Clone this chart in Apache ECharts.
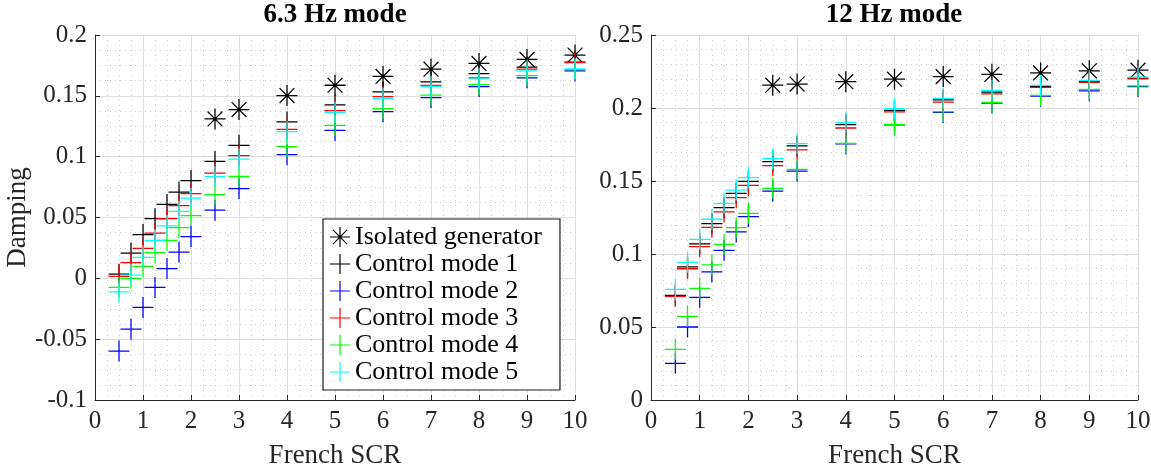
<!DOCTYPE html>
<html>
<head>
<meta charset="utf-8">
<script src="https://cdn.jsdelivr.net/npm/echarts@6/dist/echarts.min.js"></script>
<style>
html,body{margin:0;padding:0;background:#fff;}
#chart{width:1151px;height:467px;}
</style>
</head>
<body>
<div id="chart"></div>
<script>
// French SCR values
const scr = [0.5, 0.75, 1, 1.25, 1.5, 1.75, 2, 2.5, 3, 4, 5, 6, 7, 8, 9, 10];
const scrIso = [2.5, 3, 4, 5, 6, 7, 8, 9, 10];

// 6.3 Hz mode damping
const iso63 = [0.131, 0.1387, 0.1502, 0.1587, 0.1659, 0.1719, 0.1766, 0.1799, 0.1835];
const cm1_63 = [0.0034, 0.0208, 0.036, 0.049, 0.0607, 0.0709, 0.0804, 0.0961, 0.1093, 0.1285, 0.1425, 0.1532, 0.1615, 0.1683, 0.1735, 0.1778];
const cm2_63 = [-0.0598, -0.0418, -0.0239, -0.0075, 0.008, 0.0216, 0.0343, 0.056, 0.0738, 0.1016, 0.1216, 0.137, 0.1486, 0.1576, 0.1648, 0.1705];
const cm3_63 = [0.0016, 0.0129, 0.0247, 0.0371, 0.049, 0.0598, 0.0697, 0.0865, 0.1008, 0.1225, 0.1379, 0.1494, 0.1585, 0.1648, 0.1719, 0.1772];
const cm4_63 = [-0.0074, 0.0, 0.0098, 0.0211, 0.0312, 0.0416, 0.0516, 0.0689, 0.0837, 0.1082, 0.1257, 0.1395, 0.1505, 0.1593, 0.1667, 0.1715];
const cm5_63 = [-0.0112, 0.0027, 0.0172, 0.0311, 0.0432, 0.0551, 0.0659, 0.0835, 0.098, 0.1205, 0.1365, 0.148, 0.1577, 0.164, 0.1706, 0.1722];

// 12 Hz mode damping
const iso12 = [0.2156, 0.2164, 0.218, 0.2197, 0.2215, 0.2231, 0.224, 0.2255, 0.2259];
const cm1_12 = [0.0717, 0.0911, 0.107, 0.1208, 0.1317, 0.1416, 0.1498, 0.1633, 0.174, 0.1886, 0.1984, 0.2055, 0.2108, 0.2148, 0.218, 0.2205];
const cm2_12 = [0.0251, 0.05, 0.0703, 0.0877, 0.1025, 0.1151, 0.1256, 0.143, 0.1567, 0.1754, 0.1884, 0.197, 0.2034, 0.2081, 0.2118, 0.2147];
const cm3_12 = [0.071, 0.0899, 0.105, 0.1183, 0.1288, 0.1386, 0.147, 0.1605, 0.1713, 0.1863, 0.1973, 0.2041, 0.2096, 0.2142, 0.2175, 0.22];
const cm4_12 = [0.0347, 0.0573, 0.0765, 0.0925, 0.1066, 0.118, 0.1279, 0.145, 0.158, 0.1758, 0.1888, 0.1975, 0.2039, 0.2086, 0.2127, 0.2152];
const cm5_12 = [0.0758, 0.0943, 0.11, 0.1238, 0.1347, 0.1438, 0.1523, 0.1653, 0.1756, 0.1902, 0.1995, 0.2066, 0.2121, 0.2155, 0.2187, 0.2211];

const seriesNames = ['Isolated generator', 'Control mode 1', 'Control mode 2', 'Control mode 3', 'Control mode 4', 'Control mode 5'];
const seriesColors = ['#000000', '#000000', '#0000ff', '#ff0000', '#00ff00', '#00ffff'];
const titles = ['6.3 Hz mode', '12 Hz mode'];

const PLUS = 'path://M0 9.4L20 9.4L20 10.6L0 10.6Z M9.4 0L10.6 0L10.6 20L9.4 20Z';
const STAR = 'path://M0 9.4L20 9.4L20 10.6L0 10.6Z M9.4 0L10.6 0L10.6 20L9.4 20Z ' +
  'M2.51 3.35L3.35 2.51L17.49 16.65L16.65 17.49Z M16.65 2.51L17.49 3.35L3.35 17.49L2.51 16.65Z';

const FONT = '"Liberation Serif", "Times New Roman", serif';
const TXT = '#262626';

function pairs(xs, ys) { return xs.map((x, i) => [x, ys[i]]); }

const groups = [
  [iso63, cm1_63, cm2_63, cm3_63, cm4_63, cm5_63],
  [iso12, cm1_12, cm2_12, cm3_12, cm4_12, cm5_12]
];

const series = [];
groups.forEach((g, gi) => {
  g.forEach((ys, si) => {
    series.push({
      type: 'scatter',
      name: seriesNames[si],
      xAxisIndex: gi,
      yAxisIndex: gi,
      symbol: si === 0 ? STAR : PLUS,
      symbolSize: 21,
      clip: false,
      itemStyle: { color: seriesColors[si], opacity: 1 },
      emphasis: { disabled: true },
      data: pairs(si === 0 ? scrIso : scr, ys)
    });
  });
});

function fmt(v) { return String(parseFloat(Number(v).toFixed(4))); }

const MAJOR = { show: true, lineStyle: { color: '#dedede', width: 1 } };
const MINOR = { show: true, lineStyle: { color: '#cfcfcf', width: 1, type: [1, 4] } };

function xAxisCfg(gi) {
  return {
    type: 'value', gridIndex: gi, min: 0, max: 10, interval: 1,
    name: 'French SCR', nameLocation: 'middle', nameGap: 42,
    nameTextStyle: { fontFamily: FONT, fontSize: 27, color: TXT },
    axisLine: { show: true, onZero: false, lineStyle: { color: TXT, width: 1 } },
    axisTick: { show: true, inside: true, length: 5, lineStyle: { color: TXT } },
    axisLabel: { fontFamily: FONT, fontSize: 25, color: TXT, margin: 9, formatter: fmt },
    splitLine: MAJOR,
    minorTick: { show: false, splitNumber: 4 },
    minorSplitLine: MINOR
  };
}

function yAxisCfg(gi, min, max, minorSplit, name) {
  return {
    type: 'value', gridIndex: gi, min: min, max: max, interval: 0.05,
    name: name, nameLocation: 'middle', nameGap: 62,
    nameTextStyle: { fontFamily: FONT, fontSize: 27, color: TXT },
    axisLine: { show: true, onZero: false, lineStyle: { color: TXT, width: 1 } },
    axisTick: { show: true, inside: true, length: 5, lineStyle: { color: TXT } },
    axisLabel: { fontFamily: FONT, fontSize: 25, color: TXT, margin: 8, formatter: fmt },
    splitLine: MAJOR,
    minorTick: { show: false, splitNumber: minorSplit },
    minorSplitLine: MINOR
  };
}

const chart = echarts.init(document.getElementById('chart'), null, { renderer: 'canvas' });
chart.setOption({
  animation: false,
  backgroundColor: '#ffffff',
  title: [
    { text: titles[0], left: 335, top: 2, padding: 0, textAlign: 'center',
      textStyle: { fontFamily: FONT, fontSize: 27, fontWeight: 'bold', color: '#000' } },
    { text: titles[1], left: 894, top: 2, padding: 0, textAlign: 'center',
      textStyle: { fontFamily: FONT, fontSize: 27, fontWeight: 'bold', color: '#000' } }
  ],
  grid: [
    { left: 95, top: 35, width: 480, height: 365, outerBoundsMode: 'none' },
    { left: 651, top: 35, width: 487, height: 365, outerBoundsMode: 'none' }
  ],
  xAxis: [xAxisCfg(0), xAxisCfg(1)],
  yAxis: [yAxisCfg(0, -0.1, 0.2, 4, 'Damping'), yAxisCfg(1, 0, 0.25, 5, '')],
  legend: {
    data: seriesNames,
    orient: 'vertical',
    left: 323, top: 219,
    padding: [5, 18, 5, 7],
    itemWidth: 20, itemHeight: 20, itemGap: 1,
    backgroundColor: '#ffffff',
    borderColor: '#1a1a1a', borderWidth: 1.2, borderRadius: 0,
    selectedMode: false,
    textStyle: { fontFamily: FONT, fontSize: 26, color: '#000' }
  },
  series: series
});
</script>
</body>
</html>
